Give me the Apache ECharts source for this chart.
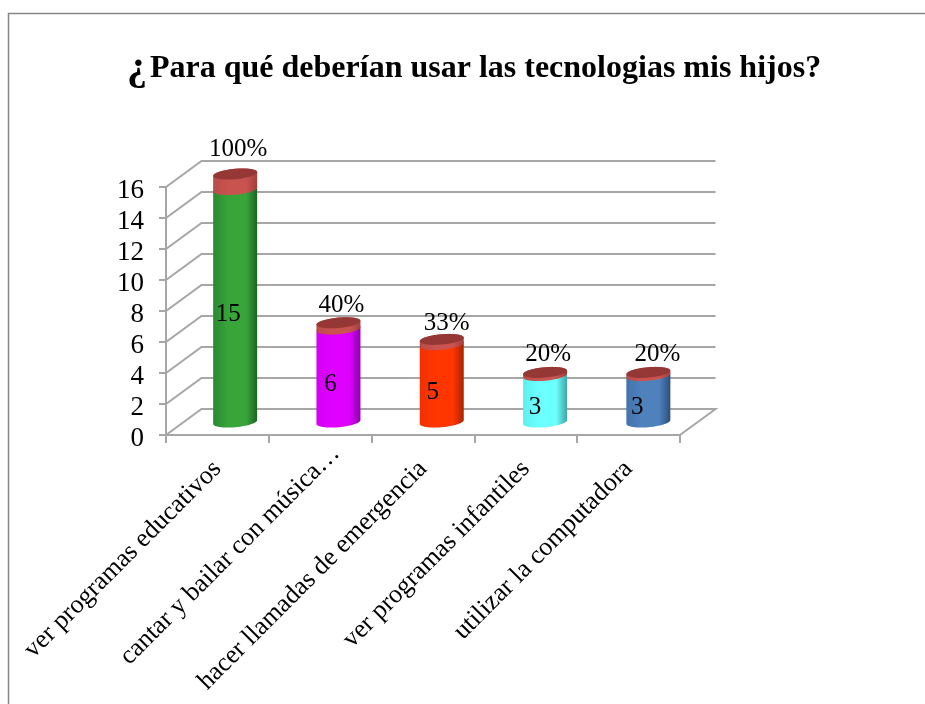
<!DOCTYPE html>
<html>
<head>
<meta charset="utf-8">
<style>html,body{margin:0;padding:0;background:#fff}#c{width:925px;height:704px}</style>
<script src="https://cdn.jsdelivr.net/npm/echarts@6/dist/echarts.min.js"></script>
</head>
<body>
<div id="c"></div>
<script>
const categories = ['ver programas educativos','cantar y bailar con música…','hacer llamadas de emergencia','ver programas infantiles','utilizar la computadora'];
const counts = [15, 6, 5, 3, 3];
const shares = [1, 0.4, 0.33, 0.2, 0.2];
const shareLabels = ['100%','40%','33%','20%','20%'];
const yTicks = [0,2,4,6,8,10,12,14,16];
const bodyColors = [
  ['#2a8a30','#38a53b','#1c6323'],
  ['#d400f5','#df00ff','#8f00ad'],
  ['#f23000','#ff3600','#a92400'],
  ['#5cefef','#6cffff','#3fa5a5'],
  ['#4473ad','#4f81bd','#2d4f78']
];
const capSide = ['#b84b48','#c9534f','#a53f3c'];
const capTop = '#953735';
const gridColor = '#a6a6a6';
const font = '"Liberation Serif","Times New Roman",serif';
// layout of the oblique projection
const depth = [35.5, -26];
const barDrift = 0.5;
const rx = 22, ry = 5.2, shear = 0.085;
const topLabelNudge = [[3,-6],[3,2],[5,3],[3,1],[9,1]];

function rim(cx, cy, from, to) {
  const pts = [], n = 28;
  for (let k = 0; k <= n; k++) {
    const t = from + (to - from) * k / n;
    const c = Math.cos(t), s = Math.sin(t);
    pts.push([cx + rx * c, cy + ry * s - shear * rx * c]);
  }
  return pts;
}
function place(api, i, v) {
  const p = api.coord([i, v]);
  return [p[0] + depth[0] / 2 + barDrift * i, p[1] + depth[1] / 2];
}
function sideFill(c) {
  return new echarts.graphic.LinearGradient(0,0,1,0,[
    {offset:0,color:c[0]},{offset:0.35,color:c[1]},{offset:0.75,color:c[1]},{offset:1,color:c[2]}
  ]);
}
function cylinder(a, b, fill, z2) {
  return { type:'polygon', z2,
    shape:{ points: rim(a[0],a[1],0,Math.PI).concat(rim(b[0],b[1],Math.PI,2*Math.PI)) },
    style:{ fill } };
}
function renderGrid(params, api) {
  const cs = params.coordSys, v = api.value(1);
  const y = api.coord([0, v])[1];
  const x0 = cs.x, x1 = cs.x + cs.width;
  const pts = [[x0,y],[x0+depth[0],y+depth[1]],[x1+depth[0],y+depth[1]]];
  if (v === 0) pts.push([x1,y]);
  return { type:'polyline', shape:{points:pts}, style:{stroke:gridColor,lineWidth:2,fill:null} };
}
function renderBody(params, api) {
  const i = api.value(0), v = api.value(1);
  const a = place(api,i,0), b = place(api,i,v), m = place(api,i,v/2);
  return { type:'group', children:[
    cylinder(a,b,sideFill(bodyColors[i]),1),
    { type:'text', z2:5, style:{ text:String(v), x:m[0]-7-barDrift*i*2, y:m[1]+9, font:'25px '+font, fill:'#000', align:'center', verticalAlign:'middle' } }
  ]};
}
function renderCap(params, api) {
  const i = api.value(0), base = api.value(1), v = api.value(2);
  const a = place(api,i,base), b = place(api,i,base+v);
  const n = topLabelNudge[i];
  return { type:'group', children:[
    cylinder(a,b,sideFill(capSide),2),
    { type:'polygon', z2:3, shape:{points:rim(b[0],b[1],0,2*Math.PI)}, style:{fill:capTop} },
    { type:'text', z2:5, style:{ text:shareLabels[i], x:b[0]+n[0], y:b[1]-19+n[1], font:'25px '+font, fill:'#000', align:'center', verticalAlign:'middle' } }
  ]};
}
const chart = echarts.init(document.getElementById('c'), null, {renderer:'canvas'});
chart.setOption({
  animation:false,
  backgroundColor:'#fff',
  graphic:[{ type:'rect', z:-1, shape:{x:8.5,y:13.5,width:940,height:720}, style:{fill:'none',stroke:'#868686',lineWidth:1.5} }],
  title:{ text:'{q|¿}Para qué deberían usar las tecnologias mis hijos?', left:122, top:44,
    textStyle:{ fontFamily:font, fontWeight:'bold', fontSize:32, color:'#000',
      rich:{ q:{ fontFamily:font, fontWeight:'bold', fontSize:40, color:'#000', padding:[0,3,0,0] } } } },
  grid:{ left:166, right:245, top:187, height:248 },
  xAxis:{ type:'category',
    data:categories.map(c => c.endsWith('…') ? {value:c, textStyle:{padding:[0,-22,0,0]}} : c),
    boundaryGap:true,
    axisLine:{lineStyle:{color:gridColor,width:2}},
    axisTick:{show:true,length:8,alignWithLabel:false,lineStyle:{color:gridColor,width:2}},
    axisLabel:{ interval:0, rotate:45, margin:30, fontFamily:font, fontSize:26, color:'#000', overflow:'none' } },
  yAxis:{ type:'value', min:0, max:16, interval:2,
    axisLine:{show:true,lineStyle:{color:gridColor,width:2}},
    axisTick:{show:true,length:7,lineStyle:{color:gridColor,width:2}},
    splitLine:{show:false},
    axisLabel:{ margin:22, color:'#000', formatter:'{n|{value}}',
      rich:{ n:{ fontFamily:font, fontSize:27, color:'#000', padding:[8,0,0,0] } } } },
  series:[
    { type:'custom', name:'grid', z:1, silent:true, renderItem:renderGrid,
      data:yTicks.map(v=>[0,v]), encode:{x:0,y:1} },
    { type:'custom', name:'Cantidad', z:2, renderItem:renderBody,
      data:counts.map((v,i)=>[i,v]), encode:{x:0,y:1} },
    { type:'custom', name:'Porcentaje', z:3, renderItem:renderCap,
      data:shares.map((v,i)=>[i,counts[i],v]), encode:{x:0,y:1} }
  ]
});
</script>
</body>
</html>
